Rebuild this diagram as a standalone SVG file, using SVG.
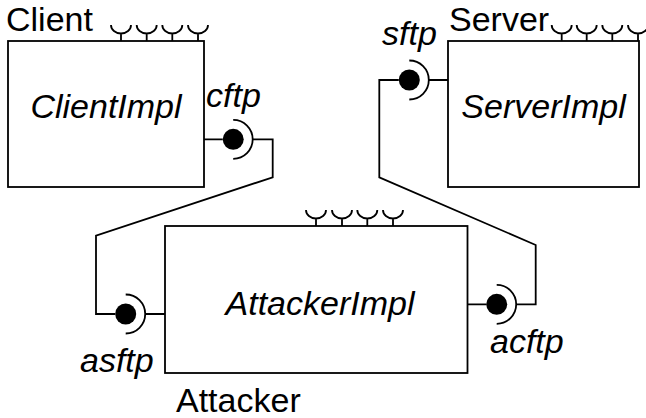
<svg xmlns="http://www.w3.org/2000/svg" width="646" height="418" viewBox="0 0 646 418">
<style>
.box{fill:#fff;stroke:#000;stroke-width:1.8}
.ln{fill:none;stroke:#000;stroke-width:1.8}
.t{font-family:"Liberation Sans",Arial,sans-serif;font-size:34px;fill:#000}
.i{font-style:italic}
.ball{fill:#000}
</style>
<defs>
<path id="sock" class="ln" d="M-10,0 A10 8.5 0 0 0 10,0 M0,8.5 V16"/>
<g id="lolli"><circle class="ball" r="10.5"/><path class="ln" d="M0,-19.5 A19.5 19.5 0 0 1 0,19.5"/></g>
</defs>
<g id="connectors">
<path class="ln" d="M204,139.3 H222.7 M252.7,139.3 H272.7 V177.3 L96,235.7 V314 H115.2 M145.2,314 H165"/>
<path class="ln" d="M448,80 H429 M398.8,80 H379.3 V177.3 L535.7,245 V304.3 H516.2 M486.2,304.3 H467.5"/>
</g>
<g id="client">
<rect class="box" x="8" y="41" width="196" height="146"/>
<use href="#sock" x="121" y="25"/><use href="#sock" x="146.7" y="25"/><use href="#sock" x="172.3" y="25"/><use href="#sock" x="198" y="25"/>
<text class="t" x="6" y="30.5">Client</text>
<text class="t i" x="106" y="118" text-anchor="middle">ClientImpl</text>
</g>
<g id="server">
<rect class="box" x="448" y="41" width="191" height="146"/>
<use href="#sock" x="561.7" y="25"/><use href="#sock" x="586.7" y="25"/><use href="#sock" x="612.3" y="25"/><use href="#sock" x="638" y="25"/>
<text class="t" x="449" y="30.5">Server</text>
<text class="t i" x="543.5" y="118" text-anchor="middle">ServerImpl</text>
</g>
<g id="attacker">
<rect class="box" x="165" y="226" width="302.5" height="147"/>
<use href="#sock" x="316" y="210"/><use href="#sock" x="342" y="210"/><use href="#sock" x="367.3" y="210"/><use href="#sock" x="393" y="210"/>
<text class="t" x="176" y="411.5">Attacker</text>
<text class="t i" x="320" y="315" text-anchor="middle">AttackerImpl</text>
</g>
<g id="cftp">
<use href="#lolli" x="233.2" y="139.3"/>
<text class="t i" x="206" y="106.5">cftp</text>
</g>
<g id="sftp">
<use href="#lolli" x="409.3" y="80"/>
<text class="t i" x="382" y="45">sftp</text>
</g>
<g id="asftp">
<use href="#lolli" x="125.7" y="314"/>
<text class="t i" x="80" y="371.5">asftp</text>
</g>
<g id="acftp">
<use href="#lolli" x="496.7" y="304.3"/>
<text class="t i" x="490" y="353.3">acftp</text>
</g>
</svg>
